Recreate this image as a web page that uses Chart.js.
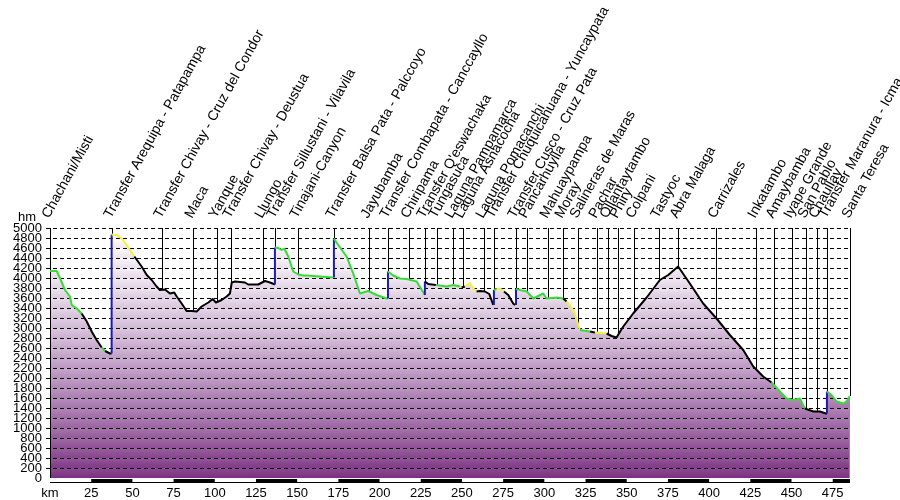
<!DOCTYPE html>
<html>
<head>
<meta charset="utf-8">
<script src="https://cdn.jsdelivr.net/npm/chart.js@4.4.1/dist/chart.umd.min.js"></script>
<style>
  html, body { margin: 0; padding: 0; background: #fff; }
  #wrap { width: 900px; height: 500px; }
</style>
</head>
<body>
<div id="wrap"><canvas id="profile"></canvas></div>
<script>
// distance along the route (km) and elevation (m)
const km = [
  0, 4.1, 6.1, 9.1, 12.1, 13.2, 16.2, 19.2, 22.3, 25.3, 28.3, 31.4, 33.4, 36.4, 37.4,
  37.4, 40.5, 43.5, 46.5, 51.2, 55.6, 58.7, 61.7, 64.7, 66.7, 69.8, 72.8, 75.4, 76.9, 79.9, 82.9,
  86.0, 89.0, 92.0, 96.1, 98.7, 100.7, 104.2, 107.2, 109.2, 110.3, 112.3, 118.3, 120.3, 126.4,
  130.5, 133.5, 136.5,
  136.5, 138.5, 140.6, 142.2, 144.6, 147.6, 150.7, 153.7, 155.8, 163.8, 171.9, 172.3,
  172.3, 174.9, 180.0, 184.0, 188.1, 193.1, 198.2, 204.3, 205.1,
  205.1, 208.3, 212.4, 216.4, 222.5, 227.5,
  227.5, 229.5, 234.2, 240.7, 244.7, 248.8, 249.8, 251.8, 254.9, 256.9, 258.9, 260.9, 264.0,
  266.6, 269.0, 269.4,
  269.4, 271.0, 273.1, 275.5, 278.1, 281.1, 282.2, 282.8,
  282.8, 285.2, 289.3, 293.3, 299.3, 301.4, 307.5, 311.5, 313.5, 315.5, 318.6, 320.6, 321.6,
  327.7, 330.7, 331.7, 337.8, 340.8, 343.8, 347.9, 353.9, 362.1, 370.1, 375.2, 381.2, 388.3,
  396.4, 404.5, 412.6, 420.7, 426.8, 432.8, 437.9, 443.0, 447.0, 451.0, 455.1, 458.1, 463.2,
  467.2, 470.9, 471.5,
  471.5, 474.3, 477.4, 481.4, 483.4, 485.4
];
const elev = [
  4140, 4140, 3990, 3760, 3630, 3460, 3390, 3290, 3130, 2930, 2760, 2610, 2540, 2490, 2490,
  4870, 4860, 4790, 4660, 4430, 4230, 4060, 3960, 3830, 3760, 3770, 3690, 3710, 3630, 3490, 3340,
  3340, 3330, 3430, 3510, 3580, 3510, 3560, 3630, 3690, 3910, 3930, 3910, 3870, 3870,
  3940, 3910, 3870,
  4610, 4600, 4560, 4590, 4430, 4130, 4070, 4050, 4050, 4030, 4010, 4010,
  4790, 4660, 4430, 4090, 3690, 3740, 3660, 3590, 3590,
  4130, 4050, 3990, 3980, 3930, 3660,
  3930, 3880, 3860, 3830, 3860, 3830, 3810, 3830, 3900, 3790, 3730, 3740, 3730,
  3680, 3460, 3460,
  3760, 3780, 3790, 3730, 3660, 3490, 3460, 3460,
  3780, 3760, 3730, 3590, 3690, 3590, 3610, 3590, 3530, 3460, 3290, 3060, 2960,
  2930, 2910, 2910, 2890, 2840, 2810, 3030, 3290, 3610, 3960, 4060, 4230, 3890,
  3490, 3190, 2860, 2560, 2230, 2030, 1910, 1730, 1590, 1560, 1590, 1390, 1330,
  1330, 1290, 1290,
  1730, 1660, 1530, 1490, 1530, 1640
];
// kind of each stretch starting at the point: g, k, y = slope classes, t = transfer
const legs = [
  'gggggggkkkkgkkt',
  'yyyykkkkkkkkkkkkkkkkkkkkkkkkkkkkt',
  'gggggggggggt',
  'ggggggggt',
  'gggggt',
  'kkgggykyyykkkkkt',
  'gyykkkkt',
  'gggggggkyyyygkyykkkkkkkkkkkkkkkkgggggkkkkt',
  'gggggg'
];
const grade = legs.join('').split('');

const stopNames = [
  'Chachani/Misti', 'Transfer Arequipa - Patapampa', 'Transfer Chivay - Cruz del Condor', 'Maca',
  'Yanque', 'Transfer Chivay - Deustua', 'Llungo', 'Transfer Sillustani - Vilavila', 'Tinajani-Canyon',
  'Transfer Balsa Pata - Palccoyo', 'Jayubamba', 'Transfer Combapata - Canccayllo', 'Chiripama',
  "Transfer Q'eswachaka", 'Tungasuca', 'Laguna Pampamarca', 'Laguna Asnacocha', 'Laguna Pomacanchi',
  'Transfer Chuquicahuana - Yuncaypata', 'Transfer Cusco - Cruz Pata', 'Pancarhuylla', 'Mahuaypampa',
  'Moray', 'Salineras de Maras', 'Pachar', 'Ollantaytambo', 'Phiry', 'Colpani', 'Tastyoc',
  'Abra Malaga', 'Carrizales', 'Inkatambo', 'Amaybamba', 'Iyape Grande', 'San Pablo', 'Chaullay',
  'Transfer Maranura - Icma', 'Santa Teresa'
];
const stopKm = [
  0, 37.4, 68.0, 86.8, 101.3, 109.8, 129.2, 136.5, 150.5, 172.3, 193.6, 205.1, 217.8, 227.5,
  234.8, 244.5, 250.6, 263.3, 269.4, 282.8, 289.4, 302.2, 311.3, 320.4, 331.9, 338.6, 344.7,
  354.4, 369.5, 381.1, 404.1, 428.4, 439.3, 450.2, 458.7, 465.4, 471.5, 485.4
];
const kmTicks = [0, 25, 50, 75, 100, 125, 150, 175, 200, 225, 250, 275, 300, 325, 350, 375, 400, 425, 450, 475];

const COLORS = { g: '#36dc36', k: '#000000', y: '#f2f23c', t: '#1c1cb0' };
const FONT = '"Liberation Sans", Arial, sans-serif';
// fill colour by height (m -> rgb)
const SHADE = [
  [0, 128, 56, 134], [1000, 160, 108, 166], [2000, 188, 150, 194],
  [3000, 214, 192, 218], [4000, 236, 226, 238], [5000, 252, 250, 252]
];

function shadeAt(h, d) {
  let i = 0;
  while (i < SHADE.length - 2 && h > SHADE[i + 1][0]) i++;
  const a = SHADE[i], b = SHADE[i + 1];
  const f = (h - a[0]) / (b[0] - a[0]);
  const c = [1, 2, 3].map(j => Math.max(0, Math.min(255, Math.round(a[j] + (b[j] - a[j]) * f + d))));
  return 'rgb(' + c.join(',') + ')';
}

function bandFill(context) {
  const chart = context.chart;
  if (!chart.chartArea) return '#d8c4dc';
  const y = chart.scales.y;
  const g = chart.ctx.createLinearGradient(0, y.getPixelForValue(5000), 0, y.getPixelForValue(0));
  for (let h = 5000; h > 0; h -= 200) {
    const t0 = (5000 - h) / 5000, t1 = (5200 - h) / 5000;
    g.addColorStop(Math.max(t0 + 0.0005, 0), shadeAt(h, 7));
    g.addColorStop(Math.min(t1 - 0.0005, 1), shadeAt(h - 200, -7));
  }
  return g;
}

function profileAt(k) {
  let best = null;
  for (let i = 0; i < km.length - 1; i++) {
    const a = km[i], b = km[i + 1];
    if (k < a || k > b) continue;
    const v = b === a ? Math.max(elev[i], elev[i + 1]) : elev[i] + (elev[i + 1] - elev[i]) * (k - a) / (b - a);
    best = best === null ? v : Math.max(best, v);
  }
  return best === null ? elev[elev.length - 1] : best;
}

const profileDecor = {
  id: 'profileDecor',
  beforeDatasetDraw(chart, args) {
    if (args.index !== 0) return;
    const { ctx, chartArea: a, scales: { x, y } } = chart;
    ctx.save();
    ctx.strokeStyle = '#000';
    ctx.lineWidth = 1;
    ctx.setLineDash([4, 3]);
    for (let h = 200; h <= 5000; h += 200) {
      const py = Math.round(y.getPixelForValue(h)) + 0.5;
      ctx.beginPath();
      ctx.moveTo(a.left - 4, py);
      ctx.lineTo(a.right, py);
      ctx.stroke();
    }
    ctx.setLineDash([]);
    ctx.beginPath();
    ctx.moveTo(a.left + 0.5, a.top);
    ctx.lineTo(a.left + 0.5, a.bottom);
    ctx.stroke();
    stopKm.forEach(k => {
      const px = Math.round(x.getPixelForValue(k)) + 0.5;
      ctx.beginPath();
      ctx.moveTo(px, a.top);
      ctx.lineTo(px, y.getPixelForValue(profileAt(k)));
      ctx.stroke();
    });
    ctx.strokeStyle = '#5aa6ae';
    ctx.beginPath();
    ctx.moveTo(a.right - 0.5, y.getPixelForValue(elev[elev.length - 1]));
    ctx.lineTo(a.right - 0.5, a.bottom);
    ctx.stroke();
    ctx.restore();
  },
  afterDraw(chart) {
    const { ctx, chartArea: a, scales: { x } } = chart;
    ctx.save();
    // km bar
    ctx.fillStyle = '#000';
    ctx.fillRect(a.left, a.bottom + 1, a.right - a.left, 4);
    ctx.fillStyle = '#fff';
    for (let k = 0; k < x.max; k += 50) {
      const x0 = x.getPixelForValue(k), x1 = x.getPixelForValue(Math.min(k + 25, x.max));
      ctx.fillRect(x0, a.bottom + 1, x1 - x0, 3);
    }
    // axis unit
    ctx.fillStyle = '#000';
    ctx.font = '13px ' + FONT;
    ctx.textAlign = 'center';
    ctx.textBaseline = 'middle';
    ctx.fillText('hm', 27, a.top - 11);
    // place names
    ctx.font = '14px ' + FONT;
    ctx.textAlign = 'left';
    ctx.textBaseline = 'alphabetic';
    stopNames.forEach((name, i) => {
      ctx.save();
      ctx.translate(Math.round(x.getPixelForValue(stopKm[i])) - 1, a.top - 9);
      ctx.rotate(-61 * Math.PI / 180);
      ctx.fillText(name, 0, 0);
      ctx.restore();
    });
    ctx.restore();
  }
};

const points = km.map((v, i) => ({ x: v, y: elev[i] }));

new Chart(document.getElementById('profile'), {
  type: 'line',
  data: {
    datasets: [
      {
        label: 'route',
        data: points,
        order: 1,
        borderWidth: 2,
        borderColor: '#000',
        borderJoinStyle: 'round',
        fill: false,
        pointRadius: 0,
        tension: 0,
        segment: {
          borderColor: (c) => COLORS[grade[c.p0DataIndex]] || '#000',
        },
      },
      {
        label: 'ground',
        data: points,
        order: 2,
        borderWidth: 0,
        pointRadius: 0,
        tension: 0,
        fill: 'origin',
        backgroundColor: bandFill,
      },
    ],
  },
  options: {
    responsive: true,
    maintainAspectRatio: false,
    animation: false,
    layout: { padding: { top: 228, right: 50, bottom: 0, left: 0 } },
    plugins: {
      legend: { display: false },
      tooltip: { enabled: false },
    },
    scales: {
      x: {
        type: 'linear',
        min: 0,
        max: 485.5,
        grid: { display: false, drawTicks: false },
        border: { display: false },
        afterBuildTicks: (s) => { s.ticks = kmTicks.map(v => ({ value: v })); },
        afterFit: (s) => { s.height = 22; s.paddingLeft = 0; s.paddingRight = 0; },
        ticks: {
          autoSkip: false,
          maxRotation: 0,
          padding: 8,
          color: '#000',
          font: { family: FONT, size: 13 },
          callback: (v) => (v === 0 ? 'km' : String(v)),
        },
      },
      y: {
        min: 0,
        max: 5000,
        grid: { display: false, drawTicks: false },
        border: { display: false },
        afterFit: (s) => { s.width = 50; s.paddingTop = 0; s.paddingBottom = 0; },
        ticks: {
          stepSize: 200,
          autoSkip: false,
          padding: 8,
          color: '#000',
          font: { family: FONT, size: 13 },
          callback: (v) => String(v),
        },
      },
    },
  },
  plugins: [profileDecor],
});
</script>
</body>
</html>
